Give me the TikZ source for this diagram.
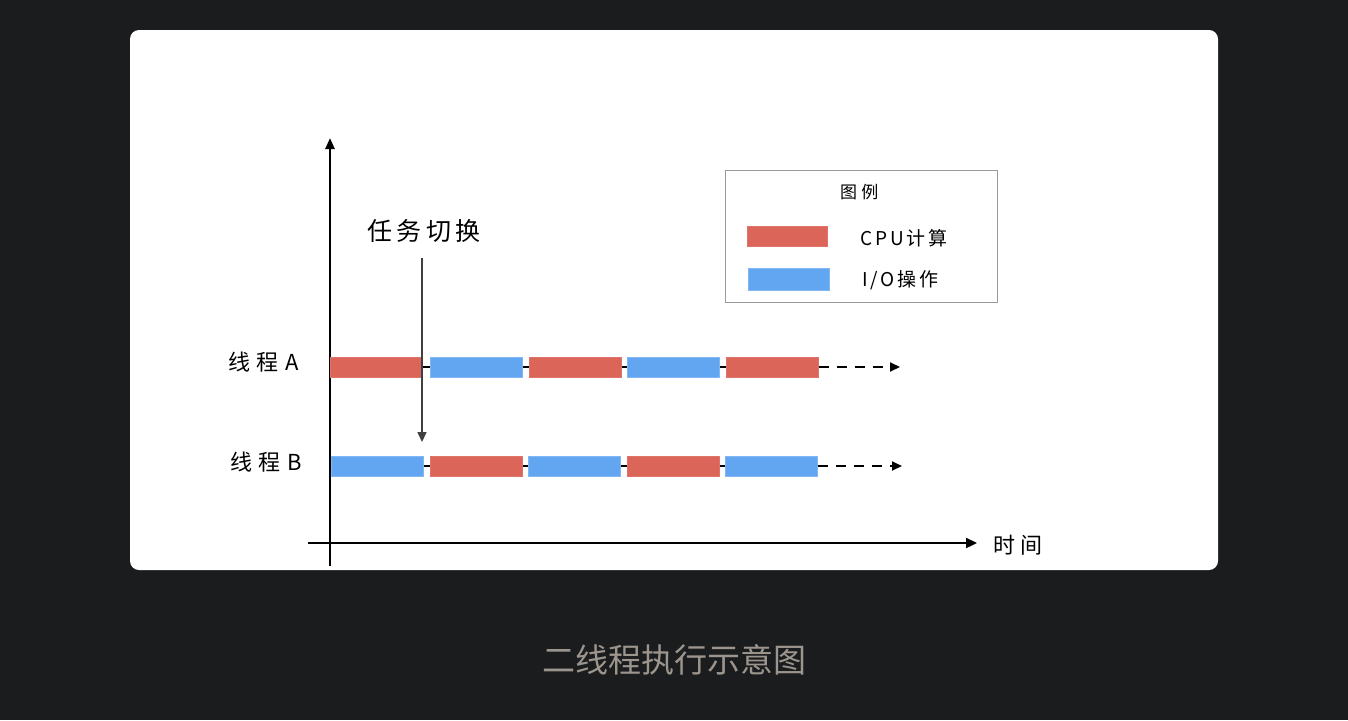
\documentclass[tikz,border=0pt]{standalone}
\usepackage{fontspec}
\setmainfont{Noto Sans CJK SC}
\newfontfamily\cjk{Noto Sans CJK SC}
\usetikzlibrary{arrows.meta}
\definecolor{bgdark}{HTML}{1B1C1E}
\definecolor{cpured}{HTML}{DC655A}
\definecolor{ioblue}{HTML}{62A5F1}
\definecolor{capgray}{HTML}{9C958D}
\definecolor{legendgray}{HTML}{9A9A9A}
\newcommand{\hwfont}[2]{\cjk\fontsize{#1}{#1}\selectfont\addfontfeature{LetterSpace=#2}}
\tikzset{
  cpubar/.style={fill=cpured, draw=cpured!90!white, line width=0.6pt, minimum width=92pt, minimum height=20pt, inner sep=0pt, anchor=west},
  iobar/.style={fill=ioblue, draw=ioblue!80!white, line width=0.6pt, minimum width=92pt, minimum height=20pt, inner sep=0pt, anchor=west},
  link/.style={black, line width=1.6pt},
  more/.style={black, line width=1.8pt, dash pattern=on 10pt off 8pt, -{Triangle[length=10pt,width=9pt]}},
  axis/.style={black, line width=2.4pt},
  lbl/.style={text=black, inner sep=0pt},
}
\begin{document}
\begin{tikzpicture}[x=1pt,y=-1pt]
\useasboundingbox (0,0) rectangle (1348,720);
\fill[bgdark] (0,0) rectangle (1348,720);
\fill[white, rounded corners=9pt] (130,30) rectangle (1218,570);

% axes
\coordinate (ybot) at (330,566);
\coordinate (ytop) at (330,138);
\coordinate (xleft) at (308,543);
\coordinate (xright) at (977,543);
\draw[axis, -{Triangle[length=11pt,width=9pt]}] (ybot) -- (ytop);
\draw[axis, line width=2.2pt, -{Triangle[length=11pt,width=10pt]}] (xleft) -- (xright);
\node[lbl, anchor=west, font=\hwfont{22}{25}] (time) at (993,545) {时间};

% thread labels
\node[lbl, anchor=west, font=\hwfont{22}{30}] (ta) at (228,362) {线程A};
\node[lbl, anchor=west, font=\hwfont{22}{30}] (tb) at (230,462) {线程B};

% thread A bars
\node[cpubar] (a1) at (330,367) {};
\node[iobar]  (a2) at (430,367) {};
\node[cpubar] (a3) at (529,367) {};
\node[iobar]  (a4) at (627,367) {};
\node[cpubar] (a5) at (726,367) {};
\coordinate (aend) at (900,367);
\draw[link] (a1.east) -- (a2.west);
\draw[link] (a2.east) -- (a3.west);
\draw[link] (a3.east) -- (a4.west);
\draw[link] (a4.east) -- (a5.west);
\draw[more] (a5.east) -- (aend);

% thread B bars
\node[iobar]  (b1) at (331,466) {};
\node[cpubar] (b2) at (430,466) {};
\node[iobar]  (b3) at (528,466) {};
\node[cpubar] (b4) at (627,466) {};
\node[iobar]  (b5) at (725,466) {};
\coordinate (bend) at (902,466);
\draw[link] (b1.east) -- (b2.west);
\draw[link] (b2.east) -- (b3.west);
\draw[link] (b3.east) -- (b4.west);
\draw[link] (b4.east) -- (b5.west);
\draw[more] (b5.east) -- (bend);

% task switch
\node[lbl, anchor=west, font=\hwfont{25}{18}] (sw) at (367,231) {任务切换};
\coordinate (swtop) at (422,258);
\coordinate (swbot) at (422,442);
\draw[black!75, line width=1.5pt, -{Triangle[length=10pt,width=9pt]}] (swtop) -- (swbot);

% legend
\node[draw=legendgray, line width=1pt, minimum width=272pt, minimum height=132pt, anchor=north west, inner sep=0pt] (legend) at (725,170) {};
\node[lbl, anchor=west, font=\hwfont{17}{25}] (lt) at (840,192) {图例};
\node[cpubar, minimum width=80pt, anchor=center] (lc) at (787,236) {};
\node[iobar, minimum width=81pt, minimum height=22pt, anchor=center] (li) at (788.5,279) {};
\node[lbl, anchor=west, font=\hwfont{19}{15}] (lct) at (860,238) {CPU计算};
\node[lbl, anchor=west, font=\hwfont{19}{15}] (lit) at (862,280) {I/O操作};

% caption
\node[font=\cjk\fontsize{33}{38}\selectfont, text=capgray, inner sep=0pt] (cap) at (674,660) {二线程执行示意图};
\end{tikzpicture}
\end{document}
